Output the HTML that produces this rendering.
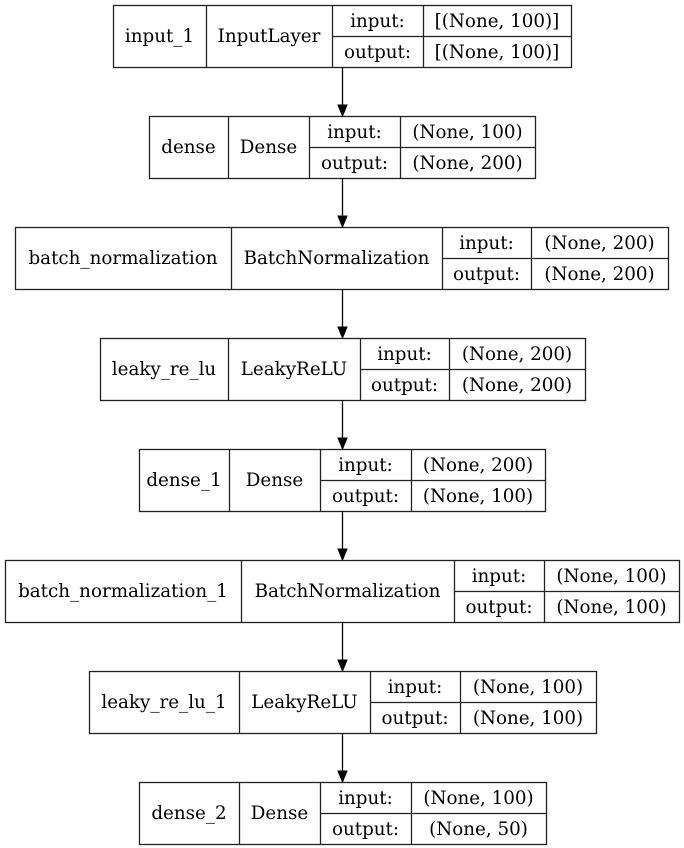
<!DOCTYPE html>
<html><head><meta charset="utf-8"><style>
html,body{margin:0;padding:0;background:#fff;}
svg{display:block;}
text{font-family:"DejaVu Serif","Liberation Serif",serif;font-size:18.3px;fill:#000;}
</style></head><body>
<svg width="684" height="848" viewBox="0 0 684 848" xmlns="http://www.w3.org/2000/svg">
<g id="g"></g>
</svg>
<script>
const boxes=[
 [113,206,332,423,571,"input_1","InputLayer","[(None, 100)]","[(None, 100)]"],
 [149,228,309,400,535,"dense","Dense","(None, 100)","(None, 200)"],
 [15,231,442,531,668,"batch_normalization","BatchNormalization","(None, 200)","(None, 200)"],
 [100,228,360,449,585,"leaky_re_lu","LeakyReLU","(None, 200)","(None, 200)"],
 [139,229,320,411,545,"dense_1","Dense","(None, 200)","(None, 100)"],
 [5,241,454,544,679,"batch_normalization_1","BatchNormalization","(None, 100)","(None, 100)"],
 [89,239,370,460,596,"leaky_re_lu_1","LeakyReLU","(None, 100)","(None, 100)"],
 [139,239,320,411,546,"dense_2","Dense","(None, 100)","(None, 50)"]
];
let s="";
boxes.forEach((b,i)=>{
 const y=5+i*111,h=62,m=y+31;
 const [x0,x1,x2,x3,x4,n,t,a,o]=b;
 const st='stroke="#222" stroke-width="1.3"';
 s+=`<rect x="${x0+.5}" y="${y+.5}" width="${x4-x0}" height="${h}" fill="#fff" ${st}/>`;
 [x1,x2,x3].forEach(x=>{s+=`<line x1="${x+.5}" y1="${y}" x2="${x+.5}" y2="${y+h}" ${st}/>`;});
 s+=`<line x1="${x2}" y1="${m+.5}" x2="${x4}" y2="${m+.5}" ${st}/>`;
 s+=`<text x="${(x0+x1)/2}" y="${m+6}" text-anchor="middle">${n}</text>`;
 s+=`<text x="${(x1+x2)/2}" y="${m+6}" text-anchor="middle">${t}</text>`;
 s+=`<text x="${(x2+x3)/2}" y="${m-9}" text-anchor="middle">input:</text>`;
 s+=`<text x="${(x2+x3)/2}" y="${m+22}" text-anchor="middle">output:</text>`;
 s+=`<text x="${(x3+x4)/2}" y="${m-9}" text-anchor="middle">${a}</text>`;
 s+=`<text x="${(x3+x4)/2}" y="${m+22}" text-anchor="middle">${o}</text>`;
 if(i<7){
  const y1=y+h, y2=y+111;
  s+=`<line x1="342.5" y1="${y1}" x2="342.5" y2="${y2-10}" stroke="#000" stroke-width="1.3"/>`;
  s+=`<polygon points="338,${y2-11} 347,${y2-11} 342.5,${y2}" fill="#000" stroke="#000"/>`;
 }
});
document.getElementById("g").innerHTML=s;
</script>
</body></html>
